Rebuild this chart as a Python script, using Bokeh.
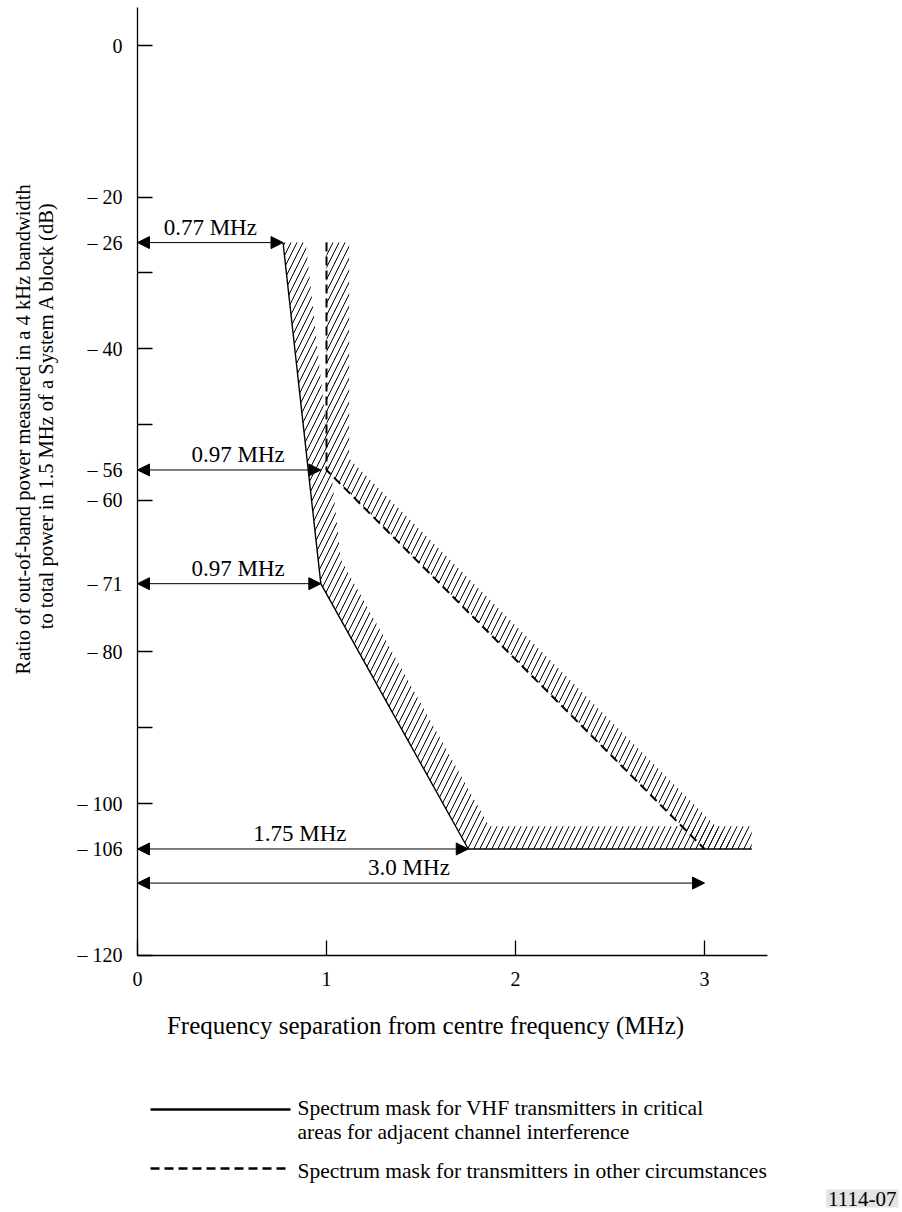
import math
from bokeh.plotting import figure
from bokeh.models import Range1d, FixedTicker, Label, Arrow, NormalHead
from bokeh.layouts import column, row
from bokeh.core.properties import value
from bokeh.embed import file_html
from bokeh.resources import INLINE

# ---- data ----
# solid mask (VHF transmitters in critical areas)
solid_x = [0.77, 0.97, 1.75, 3.25]
solid_y = [-26, -71, -106, -106]
# hatched band along the solid mask
solid_band_x = [0.77, 0.97, 1.75, 3.25, 3.25, 1.86, 1.076, 0.89]
solid_band_y = [-26, -71, -106, -106, -103, -103, -67.8, -26]
# dashed mask (other circumstances)
dash_x = [1.0, 1.0, 3.0]
dash_y = [-26, -56, -106]
# hatched band along the dashed mask
dash_band_x = [1.0, 1.0, 3.0, 3.18, 1.12, 1.12]
dash_band_y = [-26, -56, -106, -106, -54.5, -26]

# dimension arrows
arrow_y = [-26, -56, -71, -106, -110.5]
arrow_end = [0.77, 0.97, 0.97, 1.75, 3.0]
arrow_text = ["0.77 MHz", "0.97 MHz", "0.97 MHz", "1.75 MHz", "3.0 MHz"]

# ticks
x_ticks = [0, 1, 2, 3]
y_label_ticks = [0, -20, -26, -40, -56, -60, -71, -80, -100, -106, -120]
y_mark_ticks = [0, -20, -30, -40, -50, -60, -80, -90, -100, -120]

x_title = "Frequency separation from centre frequency (MHz)"
y_title_1 = "Ratio of out-of-band power measured in a 4 kHz bandwidth"
y_title_2 = "to total power in 1.5 MHz of a System A block (dB)"
legend_solid_1 = "Spectrum mask for VHF transmitters in critical"
legend_solid_2 = "areas for adjacent channel interference"
legend_dash = "Spectrum mask for transmitters in other circumstances"
fig_id = "1114-07"

FONT = "Liberation Serif"

# ---- shared page geometry (pixels per unit, origin of the data on the page) ----
PX_X = 189.0      # px per MHz
PX_Y = 7.58       # px per dB
X0 = 137.0        # page x of 0 MHz
Y0 = 45.0         # page y of 0 dB
TOP_H = 1000      # height of the upper row
LEFT_W = 60       # width of the y-title strip
TOTAL_W = 900
TOTAL_H = 1210


def xr(left_px, right_px):
    return Range1d((left_px - X0) / PX_X, (right_px - X0) / PX_X)


def yr(top_px, bottom_px):
    return Range1d(-(bottom_px - Y0) / PX_Y, -(top_px - Y0) / PX_Y)


def dx(px):
    return (px - X0) / PX_X


def dy(py):
    return -(py - Y0) / PX_Y


# ---- main chart ----
FRAME_L, FRAME_T, FRAME_R, FRAME_B = 137, 7, 767, 955
p = figure(width=TOTAL_W - LEFT_W, height=TOP_H, output_backend="svg", toolbar_location=None,
           x_range=xr(FRAME_L, FRAME_R), y_range=yr(FRAME_T, FRAME_B),
           min_border_left=FRAME_L - LEFT_W, min_border_right=TOTAL_W - FRAME_R,
           min_border_top=FRAME_T, min_border_bottom=TOP_H - FRAME_B)
p.outline_line_color = None
p.grid.visible = False

p.xaxis.ticker = FixedTicker(ticks=x_ticks)
p.xaxis.major_tick_in = 15
p.xaxis.major_tick_out = 0
p.xaxis.major_tick_line_color = "black"
p.xaxis.major_tick_line_width = 1.3
p.xaxis.minor_tick_line_color = None
p.xaxis.major_label_standoff = 16

p.yaxis.ticker = FixedTicker(ticks=y_label_ticks, minor_ticks=y_mark_ticks)
p.yaxis.major_tick_line_color = None
p.yaxis.major_tick_in = 0
p.yaxis.major_tick_out = 0
p.yaxis.minor_tick_in = 15
p.yaxis.minor_tick_out = 0
p.yaxis.minor_tick_line_color = "black"
p.yaxis.minor_tick_line_width = 1.3
p.yaxis.major_label_standoff = 15
p.yaxis.major_label_overrides = {t: ("0" if t == 0 else "\u2013 " + str(abs(t))) for t in y_label_ticks}

for ax in (p.xaxis, p.yaxis):
    ax.axis_line_color = "black"
    ax.axis_line_width = 1.3
    ax.major_label_text_font = FONT
    ax.major_label_text_font_size = "20px"
    ax.major_label_text_color = "black"

# hatched bands
p.patch(solid_band_x, solid_band_y, fill_alpha=0, line_color=None,
        hatch_pattern="/", hatch_color="black", hatch_scale=12, hatch_weight=1)
p.patch(dash_band_x, dash_band_y, fill_alpha=0, line_color=None,
        hatch_pattern="/", hatch_color="black", hatch_scale=12, hatch_weight=1)

# mask lines
p.line(solid_x, solid_y, line_color="black", line_width=1.4)
p.line(dash_x, dash_y, line_color="black", line_width=2, line_dash="9 5")

# dimension arrows and their labels (label sits above its arrow)
label_dx = [0, 9, 9, -3, -12]
for yv, xe in zip(arrow_y, arrow_end):
    p.add_layout(Arrow(x_start=0, y_start=yv, x_end=xe, y_end=yv, line_width=1, line_color="black",
                       start=NormalHead(size=12, fill_color="black", line_color="black", line_width=1),
                       end=NormalHead(size=12, fill_color="black", line_color="black", line_width=1)))
p.text(x=[e / 2 for e in arrow_end], y=[v + 3 / PX_Y for v in arrow_y], text=arrow_text,
       x_offset=label_dx, text_align="center", text_baseline="bottom",
       text_font=value(FONT), text_font_size="23px", text_color="black")

# ---- left strip with the y-axis title ----
pl = figure(width=LEFT_W, height=TOP_H, output_backend="svg", toolbar_location=None,
            x_range=xr(0, LEFT_W), y_range=yr(0, TOP_H),
            x_axis_type=None, y_axis_type=None, min_border=0)
pl.outline_line_color = None
pl.grid.visible = False
pl.text(x=[dx(22), dx(45)], y=[dy(445), dy(430)],
        text=[y_title_1, y_title_2], angle=math.pi / 2, text_align="center", text_baseline="middle",
        text_font=value(FONT), text_font_size="20.5px", text_color="black")

# ---- bottom strip: x title, legend, figure id ----
pb = figure(width=TOTAL_W, height=TOTAL_H - TOP_H, output_backend="svg", toolbar_location=None,
            x_range=xr(0, TOTAL_W), y_range=yr(TOP_H, TOTAL_H),
            x_axis_type=None, y_axis_type=None, min_border=0)
pb.outline_line_color = None
pb.grid.visible = False
pb.text(x=[dx(425)], y=[dy(1025)], text=[x_title],
        text_align="center", text_baseline="middle",
        text_font=value(FONT), text_font_size="25px", text_color="black")
lx = [dx(150), dx(290)]
pb.line(lx, [dy(1109)] * 2, line_color="black", line_width=2.4)
pb.line(lx, [dy(1168)] * 2, line_color="black", line_width=2.4, line_dash="9 5")
pb.text(x=[dx(297)] * 3, y=[dy(1107), dy(1131), dy(1170)],
        text=[legend_solid_1, legend_solid_2, legend_dash],
        text_align="left", text_baseline="middle",
        text_font=value(FONT), text_font_size="21.5px", text_color="black")
pb.add_layout(Label(x=dx(898), y=dy(1198), text=fig_id,
                    text_align="right", text_baseline="middle",
                    text_font=FONT, text_font_size="21px", text_color="black",
                    background_fill_color="#e3e3e3", padding=2))

layout = column(row(pl, p), pb)
open("out.html", "w").write(file_html(layout, INLINE))
